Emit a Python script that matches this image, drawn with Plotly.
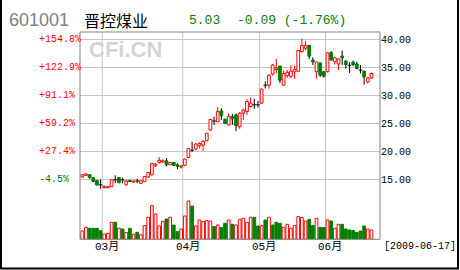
import plotly.graph_objects as go
import pandas as pd

W, H = 460, 270

# ---------------- data ----------------
holidays = ["2009-04-06", "2009-05-01", "2009-05-28", "2009-05-29"]
dates = [d for d in pd.bdate_range("2009-02-20", "2009-06-17")
         if d.strftime("%Y-%m-%d") not in holidays]

opens = [15.4, 15.7, 15.8, 15.25, 14.75, 14.0, 13.5, 13.5, 13.7, 14.9,
         15.3, 14.9, 14.0, 14.8, 14.5, 14.7, 14.3, 14.6, 15.4, 15.8,
         17.4, 18.0, 18.1, 18.3, 17.6, 18.0, 17.6, 17.2, 17.5, 18.9,
         20.2, 20.4, 21.0, 21.1, 21.9, 23.8, 25.4, 25.3, 27.2, 25.7,
         24.7, 26.2, 26.5, 24.4, 26.8, 27.1, 28.0, 28.3, 28.3, 28.6,
         31.8, 31.8, 33.8, 34.6, 35.2, 31.8, 33.5, 33.4, 34.2, 34.3,
         37.8, 38.4, 38.9, 36.3, 34.2, 35.8, 34.2, 34.2, 37.6, 36.0,
         35.6, 37.0, 36.1, 35.35, 35.9, 35.6, 34.5, 34.3, 32.4, 33.1]
highs = [15.9, 16.1, 15.9, 15.4, 14.9, 15.0, 13.9, 13.8, 14.95, 15.7,
         15.4, 15.3, 14.9, 14.9, 14.8, 15.1, 14.8, 15.6, 16.3, 17.9,
         17.9, 19.0, 18.6, 18.8, 18.1, 18.1, 17.85, 17.6, 18.7, 20.6,
         21.7, 21.5, 21.6, 22.0, 23.3, 25.8, 26.2, 27.9, 27.7, 25.8,
         26.8, 26.7, 26.7, 27.0, 27.6, 29.3, 29.6, 29.4, 29.0, 31.2,
         32.5, 33.7, 35.6, 36.5, 35.3, 34.4, 34.5, 35.4, 35.3, 38.1,
         40.1, 39.7, 39.0, 36.8, 36.0, 35.8, 34.3, 37.7, 37.9, 36.9,
         36.6, 38.0, 36.3, 35.9, 36.2, 36.0, 35.4, 34.4, 33.3, 34.1]
lows = [15.3, 15.6, 15.1, 14.5, 13.9, 13.3, 13.4, 13.4, 13.6, 14.3,
        14.3, 14.3, 13.9, 14.5, 14.4, 14.3, 14.2, 14.5, 15.3, 15.7,
        17.2, 17.8, 17.9, 17.3, 17.5, 17.4, 16.8, 16.9, 17.4, 18.8,
        19.9, 20.2, 20.5, 20.05, 21.8, 23.7, 24.7, 25.2, 25.6, 24.9,
        24.6, 24.7, 23.6, 24.0, 25.6, 26.5, 27.8, 27.6, 27.8, 28.5,
        31.2, 31.2, 33.5, 33.9, 32.2, 31.7, 33.1, 33.0, 32.9, 34.2,
        37.6, 38.0, 36.5, 35.4, 33.0, 33.3, 33.2, 34.1, 36.2, 35.5,
        34.5, 35.4, 34.75, 34.0, 35.2, 34.6, 33.9, 31.9, 32.1, 32.9]
closes = [15.8, 15.95, 15.3, 14.6, 14.0, 14.0, 13.75, 13.7, 14.9, 14.9,
          14.4, 14.9, 14.7, 14.6, 14.7, 14.7, 14.75, 15.5, 16.2, 17.8,
          17.7, 18.4, 18.3, 17.6, 18.0, 17.5, 17.3, 17.4, 18.6, 20.5,
          20.2, 21.3, 21.4, 21.8, 23.2, 25.7, 25.4, 27.1, 26.4, 25.0,
          26.2, 25.8, 24.6, 26.8, 27.4, 28.9, 28.6, 28.3, 28.3, 31.1,
          31.8, 33.6, 35.4, 34.9, 32.7, 33.9, 34.1, 34.3, 34.6, 38.0,
          38.9, 38.9, 37.0, 36.0, 35.95, 33.6, 33.4, 37.6, 36.3, 36.7,
          36.5, 36.7, 35.5, 35.35, 35.5, 34.8, 34.5, 33.3, 33.1, 33.9]
volumes = [8.3, 12, 11, 11, 11, 8.5, 5.3, 6, 17, 17,
           11, 10.3, 6.7, 11, 5, 7, 4.5, 13.7, 22, 33.7,
           25.3, 13.3, 18, 20.3, 22, 14.3, 7.7, 10.3, 23.3, 38.3,
           33.3, 13.3, 19.3, 17.7, 18.7, 18.3, 12.7, 14.3, 11.7, 16,
           19.3, 15, 14.3, 20, 21, 17, 22, 22, 13.3, 13.7,
           19.3, 22, 14.3, 17, 16, 12, 15, 11, 13.7, 22.7,
           21.7, 18.3, 20, 13.7, 21, 12, 11.7, 19.3, 18.3, 11,
           15, 15, 10.3, 9.3, 8.7, 6.7, 8.3, 13.3, 10.3, 9.3]
vol_up = [1, 1, 0, 0, 0, 0, 1, 1, 1, 0,
          1, 0, 1, 0, 1, 0, 1, 1, 1, 1,
          1, 1, 1, 0, 1, 0, 0, 1, 1, 1,
          0, 1, 1, 1, 1, 1, 0, 1, 0, 0,
          1, 0, 1, 1, 1, 1, 1, 0, 0, 1,
          0, 1, 0, 0, 0, 1, 1, 1, 1, 1,
          1, 1, 0, 0, 1, 0, 0, 1, 0, 1,
          1, 0, 0, 0, 0, 0, 0, 0, 1, 1]

price_ticks = [15, 20, 25, 30, 35, 40]
base_price = 15.70
month_names = ["03月", "04月", "05月", "06月"]

code = "601001"
name = "晋控煤业"
last_price = "5.03"
change_text = "-0.09 (-1.76%)"

RED = "#ff0000"
GREEN = "#008000"
MONO = "Liberation Mono, DejaVu Sans Mono, Noto Sans CJK SC, monospace"

# ---------------- helpers ----------------
def px_x(x):
    return x / W

def px_y(y):
    return 1 - y / H

n = len(closes)
idx = list(range(n))

up_i = [i for i in idx if closes[i] > opens[i]]
dn_i = [i for i in idx if closes[i] < opens[i]]
dj_i = [i for i in idx if closes[i] == opens[i]]

def wick_segments(ids):
    xs, ys = [], []
    for i in ids:
        top = max(opens[i], closes[i])
        bot = min(opens[i], closes[i])
        if highs[i] > top:
            xs += [i, i, None]
            ys += [top, highs[i], None]
        if lows[i] < bot:
            xs += [i, i, None]
            ys += [lows[i], bot, None]
    return xs, ys

fig = go.Figure()

BW = 0.75
# bodies
fig.add_trace(go.Bar(
    x=up_i, y=[closes[i] - opens[i] for i in up_i], base=[opens[i] for i in up_i],
    width=BW, marker=dict(color="white", line=dict(color=RED, width=1)),
    xaxis="x", yaxis="y", showlegend=False, hoverinfo="skip"))
fig.add_trace(go.Bar(
    x=dn_i, y=[opens[i] - closes[i] for i in dn_i], base=[closes[i] for i in dn_i],
    width=BW, marker=dict(color=GREEN, line=dict(color=GREEN, width=1)),
    xaxis="x", yaxis="y", showlegend=False, hoverinfo="skip"))

# volume bars
vu = [i for i in idx if vol_up[i]]
vd = [i for i in idx if not vol_up[i]]
fig.add_trace(go.Bar(
    x=vu, y=[volumes[i] for i in vu], width=BW,
    marker=dict(color="white", line=dict(color=RED, width=1)),
    xaxis="x", yaxis="y2", showlegend=False, hoverinfo="skip"))
fig.add_trace(go.Bar(
    x=vd, y=[volumes[i] for i in vd], width=BW,
    marker=dict(color=GREEN, line=dict(color=GREEN, width=1)),
    xaxis="x", yaxis="y2", showlegend=False, hoverinfo="skip"))

# wicks
wx, wy = wick_segments(up_i)
fig.add_trace(go.Scatter(x=wx, y=wy, mode="lines", line=dict(color=RED, width=1),
                         xaxis="x", yaxis="y", showlegend=False, hoverinfo="skip"))
wx, wy = wick_segments(dn_i + dj_i)
fig.add_trace(go.Scatter(x=wx, y=wy, mode="lines", line=dict(color="black", width=1),
                         xaxis="x", yaxis="y", showlegend=False, hoverinfo="skip"))
# doji horizontal strokes
dx, dy = [], []
for i in dj_i:
    dx += [i - 0.5, i + 0.5, None]
    dy += [closes[i], closes[i], None]
fig.add_trace(go.Scatter(x=dx, y=dy, mode="lines", line=dict(color="black", width=1),
                         xaxis="x", yaxis="y", showlegend=False, hoverinfo="skip"))

# ---------------- layout ----------------
PLOT_L, PLOT_R, PLOT_T, PLOT_B, SPLIT = 80, 380, 32, 239.3, 197
x_lo, x_hi = -0.63, 81.34
price_top = 40 + (39.3 - PLOT_T) / 5.6
price_bot = 40 - (SPLIT - 39.3) / 5.6

shapes = []
# month boundaries
month_first = []
for i, d in enumerate(dates):
    if i > 0 and d.month != dates[i - 1].month:
        month_first.append(i)
for i in month_first:
    shapes.append(dict(type="line", xref="x", yref="paper", x0=i - 0.55, x1=i - 0.55,
                       y0=px_y(PLOT_B), y1=px_y(PLOT_T),
                       line=dict(color="#c4c4c4", width=1), layer="below"))
# plot frame
shapes.append(dict(type="rect", xref="paper", yref="paper",
                   x0=px_x(PLOT_L), x1=px_x(PLOT_R), y0=px_y(PLOT_B), y1=px_y(PLOT_T),
                   line=dict(color="#808080", width=1)))
# outer black frame (left, right, bottom)
for (x0, y0, x1, y1) in [(1, 0, 1, 268.5), (458, 0, 458, 268.5), (0, 268.5, 459, 268.5)]:
    shapes.append(dict(type="line", xref="paper", yref="paper",
                       x0=px_x(x0), x1=px_x(x1), y0=px_y(y0), y1=px_y(y1),
                       line=dict(color="black", width=2)))

annotations = []
for t in price_ticks:
    pct = (t / base_price - 1) * 100
    txt = ("+" if pct >= 0 else "") + f"{pct:.1f}%"
    annotations.append(dict(x=px_x(36.5), xref="paper", y=t, yref="y",
                            xanchor="left", yanchor="middle", text=txt, showarrow=False,
                            font=dict(family=MONO, size=10, color=RED if pct >= 0 else GREEN)))
for k, i in enumerate(month_first):
    annotations.append(dict(x=i + 0.75, xref="x", y=px_y(246.5), yref="paper",
                            xanchor="center", yanchor="middle", text=month_names[k],
                            showarrow=False, font=dict(family=MONO, size=11, color="black")))
annotations.append(dict(x=px_x(382), xref="paper", y=px_y(246), yref="paper",
                        xanchor="left", yanchor="middle",
                        text="[" + dates[-1].strftime("%Y-%m-%d") + "]",
                        showarrow=False, font=dict(family=MONO, size=10, color="black")))
# header
annotations.append(dict(x=px_x(7), xref="paper", y=px_y(20), yref="paper",
                        xanchor="left", yanchor="middle", text=code, showarrow=False,
                        font=dict(family="Liberation Sans, Arial", size=18, color="#808080")))
annotations.append(dict(x=px_x(82), xref="paper", y=px_y(20), yref="paper",
                        xanchor="left", yanchor="middle", text=name, showarrow=False,
                        font=dict(family="Noto Sans CJK SC", size=16, color="black")))
annotations.append(dict(x=px_x(187), xref="paper", y=px_y(20), yref="paper",
                        xanchor="left", yanchor="middle", text=last_price, showarrow=False,
                        font=dict(family=MONO, size=13, color=GREEN)))
annotations.append(dict(x=px_x(235), xref="paper", y=px_y(20), yref="paper",
                        xanchor="left", yanchor="middle", text=change_text, showarrow=False,
                        font=dict(family=MONO, size=13, color=GREEN)))
# watermark
annotations.append(dict(x=px_x(87), xref="paper", y=px_y(49.5), yref="paper",
                        xanchor="left", yanchor="middle", text="<b>CFi.CN</b>", showarrow=False,
                        font=dict(family="Liberation Sans, Arial", size=22, color="#d4d4d4")))

fig.update_layout(
    width=W, height=H, margin=dict(l=0, r=0, t=0, b=0),
    paper_bgcolor="white", plot_bgcolor="white",
    barmode="overlay", showlegend=False,
    xaxis=dict(domain=[px_x(PLOT_L), px_x(PLOT_R)], range=[x_lo, x_hi],
               showgrid=False, zeroline=False, showticklabels=False, ticks="",
               fixedrange=True),
    yaxis=dict(domain=[px_y(SPLIT), px_y(PLOT_T)], range=[price_bot, price_top],
               side="right", tickvals=price_ticks,
               ticktext=[f"{t:.2f}" for t in price_ticks],
               tickfont=dict(family=MONO, size=10, color="black"),
               showgrid=True, gridcolor="#c4c4c4", gridwidth=1, zeroline=False,
               ticks="", fixedrange=True),
    yaxis2=dict(domain=[px_y(PLOT_B), px_y(SPLIT)], range=[0, PLOT_B - SPLIT],
                showgrid=False, zeroline=False, showticklabels=False, ticks="",
                fixedrange=True),
    shapes=shapes, annotations=annotations,
)

fig.write_html("out.html")
